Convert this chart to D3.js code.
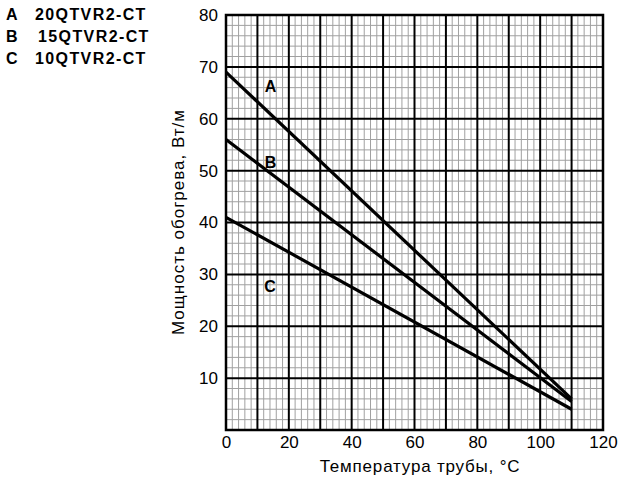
<!DOCTYPE html>
<html>
<head>
<meta charset="utf-8">
<script src="https://cdn.jsdelivr.net/npm/d3@7"></script>
<style>
  body { margin: 0; background: #fff; }
  svg { display: block; font-family: "Liberation Sans", Arial, sans-serif; }
</style>
</head>
<body>
<div id="chart"></div>
<script>
// Heating output vs pipe temperature
const legendKeys = ["A", "B", "C"];
const legendNames = ["20QTVR2-CT", "15QTVR2-CT", "10QTVR2-CT"];
const temps = [0, 110];
const seriesA = [69, 6];
const seriesB = [56, 5.5];
const seriesC = [41, 4];
const xTicks = [0, 20, 40, 60, 80, 100, 120];
const yTicks = [10, 20, 30, 40, 50, 60, 70, 80];
const labelPos = [[14.2, 66.3], [14.2, 51.6], [14, 27.6]]; // [temp, W/m] for A, B, C in-chart labels

const width = 641, height = 484;
const margin = { top: 15, right: 38, bottom: 54, left: 226 };

const svg = d3.select("#chart").append("svg")
  .attr("width", width)
  .attr("height", height);

const x = d3.scaleLinear().domain([0, 120]).range([margin.left, width - margin.right]);
const y = d3.scaleLinear().domain([0, 80]).range([height - margin.bottom, margin.top]);

const g = svg.append("g");

// minor grid, every 2 units
g.append("g").selectAll("line")
  .data(d3.range(0, 121, 2).filter(d => d % 10 !== 0))
  .join("line")
  .attr("x1", d => x(d)).attr("x2", d => x(d))
  .attr("y1", y(0)).attr("y2", y(80))
  .attr("stroke", "#a0a0a0").attr("stroke-width", 1);

g.append("g").selectAll("line")
  .data(d3.range(0, 81, 2).filter(d => d % 10 !== 0))
  .join("line")
  .attr("y1", d => y(d)).attr("y2", d => y(d))
  .attr("x1", x(0)).attr("x2", x(120))
  .attr("stroke", "#a0a0a0").attr("stroke-width", 1);

// major grid, every 10 units
g.append("g").selectAll("line")
  .data(d3.range(0, 121, 10))
  .join("line")
  .attr("x1", d => x(d)).attr("x2", d => x(d))
  .attr("y1", y(0)).attr("y2", y(80))
  .attr("stroke", "#000").attr("stroke-width", 2);

g.append("g").selectAll("line")
  .data(d3.range(0, 81, 10))
  .join("line")
  .attr("y1", d => y(d)).attr("y2", d => y(d))
  .attr("x1", x(0)).attr("x2", x(120))
  .attr("stroke", "#000").attr("stroke-width", 2);

// frame
g.append("rect")
  .attr("x", x(0)).attr("y", y(80))
  .attr("width", x(120) - x(0)).attr("height", y(0) - y(80))
  .attr("fill", "none").attr("stroke", "#000").attr("stroke-width", 2.5);

// axes (labels only)
const xAxis = svg.append("g")
  .attr("transform", `translate(0,${y(0)})`)
  .call(d3.axisBottom(x).tickValues(xTicks).tickSize(0).tickPadding(6));
const yAxis = svg.append("g")
  .attr("transform", `translate(${x(0)},0)`)
  .call(d3.axisLeft(y).tickValues(yTicks).tickSize(0).tickPadding(8));
[xAxis, yAxis].forEach(a => {
  a.select(".domain").remove();
  a.selectAll("text").attr("font-size", 17).attr("fill", "#000")
    .attr("font-family", "Liberation Sans, Arial, sans-serif");
});

// series lines
const line = d3.line().x((d, i) => x(temps[i])).y(d => y(d));
[seriesA, seriesB, seriesC].forEach(s => {
  svg.append("path")
    .attr("d", line(s))
    .attr("fill", "none")
    .attr("stroke", "#000")
    .attr("stroke-width", 3.2)
    .attr("stroke-linecap", "butt");
});

// in-chart letters
svg.append("g").selectAll("text")
  .data(legendKeys)
  .join("text")
  .attr("x", (d, i) => x(labelPos[i][0]))
  .attr("y", (d, i) => y(labelPos[i][1]))
  .attr("text-anchor", "middle")
  .attr("dy", "0.35em")
  .attr("font-size", 16)
  .attr("font-weight", "bold")
  .text(d => d);

// legend
const leg = svg.append("g")
  .attr("font-size", 16)
  .attr("font-weight", "bold");
leg.selectAll("text.k")
  .data(legendKeys)
  .join("text")
  .attr("class", "k")
  .attr("x", 6)
  .attr("y", (d, i) => 19.5 + i * 22)
  .text(d => d);
leg.selectAll("text.n")
  .data(legendNames)
  .join("text")
  .attr("class", "n")
  .attr("x", (d, i) => i === 1 ? 38 : 35)
  .attr("y", (d, i) => 19.5 + i * 22)
  .attr("letter-spacing", 1.4)
  .text(d => d);

// axis titles
svg.append("text")
  .attr("x", 420)
  .attr("y", 472)
  .attr("text-anchor", "middle")
  .attr("font-size", 17)
  .attr("letter-spacing", 0.8)
  .text("Температура трубы, °C");

svg.append("text")
  .attr("transform", `translate(184,222) rotate(-90)`)
  .attr("text-anchor", "middle")
  .attr("font-size", 17)
  .attr("letter-spacing", 1)
  .text("Мощность обогрева, Вт/м");
</script>
</body>
</html>
